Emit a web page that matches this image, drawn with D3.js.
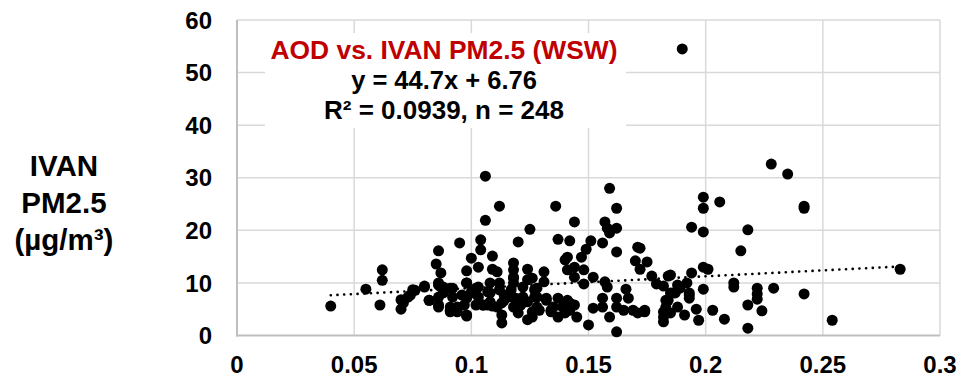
<!DOCTYPE html>
<html>
<head>
<meta charset="utf-8">
<script src="https://cdn.jsdelivr.net/npm/d3@7"></script>
<style>
  html, body { margin: 0; padding: 0; background: #ffffff; }
  svg { display: block; }
  text { font-family: "Liberation Sans", Arial, sans-serif; font-weight: bold; }
</style>
</head>
<body>
<div id="chart"></div>
<script>
// ---- data ----
const aod = [
  0.040,0.055,0.062,0.062,0.061,0.070,0.070,0.095,0.086,0.085,
  0.087,0.100,0.098,0.098,0.103,0.104,0.104,0.080,0.076,0.074,
  0.071,0.082,0.086,0.088,0.086,0.091,0.092,0.091,0.094,0.096,
  0.097,0.098,0.101,0.103,0.106,0.112,0.106,0.136,0.144,0.125,
  0.120,0.137,0.142,0.109,0.109,0.111,0.118,0.118,0.118,0.124,
  0.131,0.140,0.141,0.144,0.126,0.108,0.102,0.107,0.112,0.114,
  0.117,0.122,0.122,0.128,0.127,0.113,0.105,0.109,0.113,0.118,
  0.120,0.121,0.126,0.128,0.132,0.134,0.137,0.139,0.141,0.142,
  0.144,0.145,0.159,0.162,0.157,0.158,0.159,0.162,0.151,0.156,
  0.149,0.147,0.162,0.171,0.170,0.175,0.172,0.148,0.152,0.148,
  0.157,0.158,0.166,0.167,0.177,0.179,0.182,0.184,0.188,0.186,
  0.184,0.183,0.182,0.182,0.185,0.188,0.142,0.150,0.152,0.156,
  0.156,0.159,0.162,0.162,0.162,0.165,0.169,0.171,0.174,0.228,
  0.199,0.199,0.206,0.194,0.199,0.218,0.215,0.199,0.201,0.194,
  0.212,0.212,0.199,0.222,0.229,0.222,0.222,0.224,0.218,0.218,
  0.203,0.208,0.197,0.196,0.191,0.193,0.192,0.189,0.187,0.185,
  0.190,0.235,0.242,0.242,0.283,0.242,0.254,0.172,0.174,0.189,
  0.193,0.193,0.185,0.183,0.182,0.075,0.073,0.071,0.080,0.086,
  0.088,0.092,0.086,0.082,0.086,0.091,0.091,0.094,0.098,0.098,
  0.103,0.102,0.098,0.100,0.105,0.107,0.108,0.108,0.112,0.114,
  0.111,0.113,0.117,0.118,0.118,0.119,0.119,0.121,0.124,0.124,
  0.127,0.128,0.126,0.124,0.131,0.132,0.129,0.134,0.135,0.137,
  0.140,0.141,0.144
];
const pm25 = [
  5.6,8.8,12.5,10.5,5.8,6.8,5.0,17.6,16.1,13.6,
  11.9,14.7,12.3,10.0,13.0,18.2,16.3,9.2,8.6,7.7,
  6.7,6.7,9.6,8.1,5.8,9.0,7.3,4.8,5.4,7.7,
  5.8,3.7,8.1,9.2,30.3,24.6,21.9,24.6,21.6,20.2,
  17.8,18.3,18.0,15.1,12.6,12.1,13.8,12.5,10.9,12.6,
  12.1,14.4,14.9,13.0,10.9,10.0,9.0,8.3,10.0,7.7,
  8.7,9.2,7.3,9.0,7.3,6.2,5.8,5.6,3.9,5.4,
  4.3,5.8,3.5,5.4,6.7,4.8,7.1,5.4,6.7,4.8,
  5.8,3.5,28.0,24.2,21.6,20.4,19.5,20.4,18.0,17.6,
  16.4,14.9,15.9,16.8,14.2,14.0,12.6,12.5,11.1,9.8,
  10.2,9.2,8.8,7.1,11.3,9.8,9.4,11.3,9.6,8.1,
  6.7,5.4,3.5,2.6,4.3,5.4,6.2,2.0,5.2,7.1,
  5.4,3.5,7.1,5.4,0.7,4.8,4.8,4.3,4.8,32.6,
  26.3,24.2,25.4,20.6,19.7,20.1,16.1,13.0,12.6,11.9,
  10.0,9.2,8.8,9.0,9.0,7.9,6.9,4.7,5.8,1.4,
  4.8,3.1,2.9,5.0,3.9,7.7,10.0,9.2,8.1,11.5,
  54.5,30.7,24.6,24.2,12.6,7.9,2.9,16.6,4.5,9.0,
  8.1,7.1,8.1,6.7,4.5,8.7,7.3,6.2,9.4,10.0,
  9.2,9.0,7.3,6.7,5.4,5.4,4.5,4.5,3.9,7.1,
  7.3,5.8,10.0,8.3,5.8,5.8,8.1,6.4,8.7,6.7,
  5.4,2.4,7.3,10.0,11.1,7.1,5.4,5.8,6.4,10.6,
  8.7,7.3,4.5,3.0,10.2,7.1,4.8,4.5,5.4,3.5,
  4.3,12.5,11.1
];
const xTicks = [0, 0.05, 0.1, 0.15, 0.2, 0.25, 0.3];
const xTickLabels = ["0", "0.05", "0.1", "0.15", "0.2", "0.25", "0.3"];
const yTicks = [0, 10, 20, 30, 40, 50, 60];
const trendSlope = 22.5;
const trendIntercept = 6.76;
const trendRange = [0.040, 0.283];
const titleText = "AOD vs. IVAN PM2.5 (WSW)";
const equationLines = ["y = 44.7x + 6.76", "R\u00B2 = 0.0939, n = 248"];
const yLabelLines = ["IVAN", "PM2.5", "(\u00B5g/m\u00B3)"];

// ---- chart ----
const W = 965, H = 382;
const svg = d3.select("#chart").append("svg").attr("width", W).attr("height", H);

const x = d3.scaleLinear().domain([0, 0.3]).range([237, 940]);
const y = d3.scaleLinear().domain([0, 60]).range([335.5, 20]);

// gridlines
svg.append("g").selectAll("line.v").data(xTicks.slice(1)).join("line")
  .attr("x1", d => x(d)).attr("x2", d => x(d))
  .attr("y1", y(0)).attr("y2", y(60))
  .attr("stroke", "#d9d9d9").attr("stroke-width", 1.5);
svg.append("g").selectAll("line.h").data(yTicks.slice(1)).join("line")
  .attr("x1", x(0)).attr("x2", x(0.3))
  .attr("y1", d => y(d)).attr("y2", d => y(d))
  .attr("stroke", "#d9d9d9").attr("stroke-width", 1.5);

// axes lines
svg.append("line").attr("x1", x(0)).attr("x2", x(0)).attr("y1", y(60)).attr("y2", y(0) + 1)
  .attr("stroke", "#bfbfbf").attr("stroke-width", 2);
svg.append("line").attr("x1", x(0) - 1).attr("x2", x(0.3)).attr("y1", y(0)).attr("y2", y(0))
  .attr("stroke", "#bfbfbf").attr("stroke-width", 2);

// points
const pts = aod.map((a, i) => ({ a, p: pm25[i] }));
svg.append("g").selectAll("circle").data(pts).join("circle")
  .attr("cx", d => x(d.a)).attr("cy", d => y(d.p)).attr("r", 5.5)
  .attr("fill", "#000");

// trendline
svg.append("line")
  .attr("x1", x(trendRange[0])).attr("y1", y(trendIntercept + trendSlope * trendRange[0]))
  .attr("x2", x(trendRange[1])).attr("y2", y(trendIntercept + trendSlope * trendRange[1]))
  .attr("stroke", "#000").attr("stroke-width", 2.6)
  .attr("stroke-linecap", "round").attr("stroke-dasharray", "0.1,6.6");

// annotation box
svg.append("rect").attr("x", 265).attr("y", 33).attr("width", 361).attr("height", 95).attr("fill", "#fff");
svg.append("text").attr("x", 444).attr("y", 59).attr("text-anchor", "middle")
  .attr("font-size", 26.4).attr("fill", "#c00000").text(titleText);
svg.selectAll("text.eq").data(equationLines).join("text").attr("class", "eq")
  .attr("x", 444).attr("y", (d, i) => 89 + i * 30).attr("text-anchor", "middle")
  .attr("font-size", (d, i) => i === 0 ? 25.5 : 26).attr("fill", "#000").text(d => d);

// tick labels
svg.append("g").selectAll("text").data(yTicks).join("text")
  .attr("x", 212).attr("y", d => y(d)).attr("dy", "0.36em")
  .attr("text-anchor", "end").attr("font-size", 24).attr("fill", "#000")
  .text(d => d);
svg.append("g").selectAll("text").data(xTicks).join("text")
  .attr("x", d => x(d)).attr("y", 373)
  .attr("text-anchor", "middle").attr("font-size", 24).attr("fill", "#000")
  .text((d, i) => xTickLabels[i]);

// y label
svg.append("g").selectAll("text").data(yLabelLines).join("text")
  .attr("x", 64).attr("y", (d, i) => 176 + i * 37)
  .attr("text-anchor", "middle").attr("font-size", 29.5).attr("fill", "#000")
  .text(d => d);
</script>
</body>
</html>
